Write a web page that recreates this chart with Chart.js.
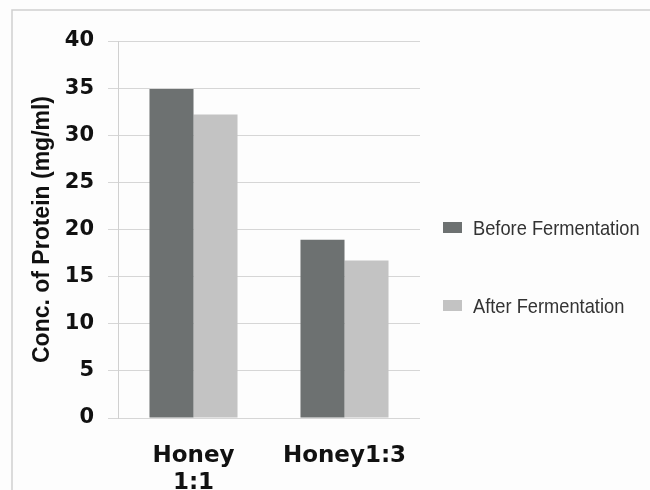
<!DOCTYPE html>
<html>
<head>
<meta charset="utf-8">
<script src="https://cdn.jsdelivr.net/npm/chart.js@4"></script>
<style>
html,body{margin:0;padding:0;background:#fdfdfd;}
canvas{display:block;}
</style>
</head>
<body>
<canvas id="c" width="650" height="490"></canvas>
<script>
const categories = [["Honey", "1:1"], "Honey1:3"];
const beforeValues = [34.9, 18.9];
const afterValues = [32.2, 16.7];
const seriesLabels = ["Before Fermentation", "After Fermentation"];
const seriesColors = ["#6d7171", "#c3c3c3"];
const yTicks = [0, 5, 10, 15, 20, 25, 30, 35, 40];

const frame = {
  id: 'frame',
  beforeDraw(chart) {
    const ctx = chart.ctx;
    ctx.save();
    ctx.fillStyle = '#fdfdfd';
    ctx.fillRect(0, 0, chart.width, chart.height);
    ctx.strokeStyle = '#cfcfcf';
    ctx.lineWidth = 1.5;
    ctx.strokeRect(12, 10, 700, 600);
    ctx.restore();
  }
};

const sideLegend = {
  id: 'sideLegend',
  afterDraw(chart) {
    const ctx = chart.ctx;
    const ys = [228, 306];
    ctx.save();
    chart.data.datasets.forEach((ds, i) => {
      ctx.fillStyle = ds.backgroundColor;
      ctx.fillRect(443, ys[i] - 6, 19, 11);
      ctx.save();
      ctx.translate(473, ys[i] + 1);
      ctx.scale(0.87, 1);
      ctx.fillStyle = '#333';
      ctx.font = '21px "Liberation Sans", Arial, sans-serif';
      ctx.textBaseline = 'middle';
      ctx.textAlign = 'left';
      ctx.fillText(ds.label, 0, 0);
      ctx.restore();
    });
    ctx.restore();
  }
};

new Chart(document.getElementById('c'), {
  type: 'bar',
  data: {
    labels: categories,
    datasets: [
      { label: seriesLabels[0], data: beforeValues, backgroundColor: seriesColors[0] },
      { label: seriesLabels[1], data: afterValues, backgroundColor: seriesColors[1] }
    ]
  },
  options: {
    responsive: false,
    devicePixelRatio: 1,
    animation: false,
    layout: { padding: { left: 0, right: 230, top: 41, bottom: 0 } },
    datasets: { bar: { categoryPercentage: 0.583, barPercentage: 1.0, borderWidth: 0 } },
    plugins: { legend: { display: false }, tooltip: { enabled: false } },
    scales: {
      x: {
        grid: { display: false },
        border: { display: false },
        ticks: {
          color: '#111',
          padding: 16,
          maxRotation: 0,
          font: { family: '"DejaVu Sans", sans-serif', weight: 'bold', size: 23, lineHeight: 1.2 }
        },
        afterFit(scale) { scale.height = 72; }
      },
      y: {
        min: 0,
        max: 40,
        afterBuildTicks(scale) { scale.ticks = yTicks.map(v => ({ value: v })); },
        grid: { color: '#d6d6d6', lineWidth: 1, tickLength: 10, drawTicks: true },
        border: { display: true, color: '#d0d0d0', width: 1 },
        ticks: {
          color: '#111',
          padding: 14,
          font: { family: '"DejaVu Sans", sans-serif', weight: 'bold', size: 21 }
        },
        title: {
          display: true,
          text: 'Conc. of Protein (mg/ml)',
          color: '#111',
          padding: { top: 29, bottom: 0 },
          font: { family: '"Liberation Sans", Arial, sans-serif', weight: 'bold', size: 23, lineHeight: 1.2 }
        },
        afterFit(scale) { scale.width = 118; }
      }
    }
  },
  plugins: [frame, sideLegend]
});
</script>
</body>
</html>
